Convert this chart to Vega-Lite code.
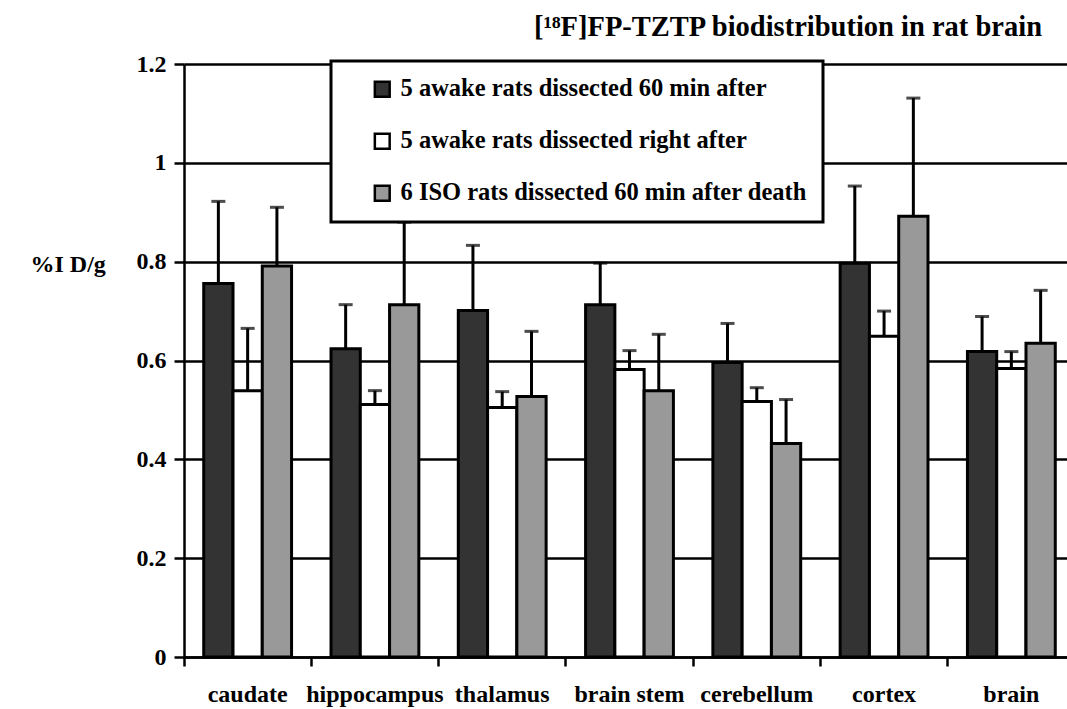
{
  "$schema": "https://vega.github.io/schema/vega-lite/v6.json",
  "width": 891,
  "height": 593,
  "autosize": {"type": "none"},
  "padding": {"left": 184, "top": 64, "right": 0, "bottom": 52},
  "background": "white",
  "title": {
    "text": "[¹⁸F]FP-TZTP biodistribution in rat brain",
    "anchor": "start",
    "frame": "group",
    "dx": 350,
    "offset": 11,
    "font": "Liberation Serif",
    "fontSize": 28.5,
    "fontWeight": "bold",
    "color": "black"
  },
  "config": {
    "view": {"stroke": null},
    "font": "Liberation Serif",
    "legend": {"strokeWidth": 3},
    "axis": {
      "labelFont": "Liberation Serif",
      "labelFontWeight": "bold",
      "labelFontSize": 24,
      "labelColor": "black",
      "titleFont": "Liberation Serif",
      "titleFontWeight": "bold",
      "titleFontSize": 24,
      "titleColor": "black",
      "domainColor": "black",
      "domainWidth": 2.5,
      "tickColor": "black",
      "tickWidth": 2.5
    }
  },
  "data": {
    "values": [
      {"region": "caudate", "group": "5 awake rats dissected 60 min after", "value": 0.756, "err": 0.922},
      {"region": "caudate", "group": "5 awake rats dissected right after", "value": 0.539, "err": 0.665},
      {"region": "caudate", "group": "6 ISO rats dissected 60 min after death", "value": 0.791, "err": 0.910},
      {"region": "hippocampus", "group": "5 awake rats dissected 60 min after", "value": 0.624, "err": 0.713},
      {"region": "hippocampus", "group": "5 awake rats dissected right after", "value": 0.511, "err": 0.539},
      {"region": "hippocampus", "group": "6 ISO rats dissected 60 min after death", "value": 0.713, "err": 0.880},
      {"region": "thalamus", "group": "5 awake rats dissected 60 min after", "value": 0.701, "err": 0.833},
      {"region": "thalamus", "group": "5 awake rats dissected right after", "value": 0.505, "err": 0.537},
      {"region": "thalamus", "group": "6 ISO rats dissected 60 min after death", "value": 0.527, "err": 0.659},
      {"region": "brain stem", "group": "5 awake rats dissected 60 min after", "value": 0.713, "err": 0.797},
      {"region": "brain stem", "group": "5 awake rats dissected right after", "value": 0.582, "err": 0.620},
      {"region": "brain stem", "group": "6 ISO rats dissected 60 min after death", "value": 0.539, "err": 0.653},
      {"region": "cerebellum", "group": "5 awake rats dissected 60 min after", "value": 0.596, "err": 0.675},
      {"region": "cerebellum", "group": "5 awake rats dissected right after", "value": 0.517, "err": 0.545},
      {"region": "cerebellum", "group": "6 ISO rats dissected 60 min after death", "value": 0.432, "err": 0.521},
      {"region": "cortex", "group": "5 awake rats dissected 60 min after", "value": 0.797, "err": 0.953},
      {"region": "cortex", "group": "5 awake rats dissected right after", "value": 0.649, "err": 0.700},
      {"region": "cortex", "group": "6 ISO rats dissected 60 min after death", "value": 0.892, "err": 1.131},
      {"region": "brain", "group": "5 awake rats dissected 60 min after", "value": 0.618, "err": 0.689},
      {"region": "brain", "group": "5 awake rats dissected right after", "value": 0.584, "err": 0.618},
      {"region": "brain", "group": "6 ISO rats dissected 60 min after death", "value": 0.635, "err": 0.742}
    ]
  },
  "encoding": {
    "x": {
      "field": "region",
      "type": "nominal",
      "sort": null,
      "scale": {"paddingInner": 0.31, "paddingOuter": 0.155},
      "axis": {
        "title": null,
        "labelAngle": 0,
        "bandPosition": -0.2246,
        "tickSize": 9,
        "labelPadding": 16,
        "grid": false
      }
    },
    "xOffset": {
      "field": "group",
      "type": "nominal",
      "sort": ["5 awake rats dissected 60 min after", "5 awake rats dissected right after", "6 ISO rats dissected 60 min after death"],
      "scale": {"paddingInner": 0, "paddingOuter": 0}
    }
  },
  "layer": [
    {
      "mark": {"type": "bar", "stroke": "black", "strokeWidth": 3},
      "encoding": {
        "y": {
          "field": "value",
          "type": "quantitative",
          "scale": {"domain": [0, 1.2], "nice": false},
          "axis": {
            "title": "%I D/g",
            "titleAngle": 0,
            "titleAlign": "left",
            "titleBaseline": "middle",
            "titleX": -154,
            "titleY": 200,
            "values": [0, 0.2, 0.4, 0.6, 0.8, 1, 1.2],
            "format": "~g",
            "tickSize": 10,
            "labelPadding": 8,
            "grid": true,
            "gridColor": "black",
            "gridWidth": 2.5,
            "gridOpacity": 1
          }
        },
        "fill": {
          "field": "group",
          "type": "nominal",
          "scale": {
            "domain": ["5 awake rats dissected 60 min after", "5 awake rats dissected right after", "6 ISO rats dissected 60 min after death"],
            "range": ["#333333", "#ffffff", "#999999"]
          },
          "legend": {
            "title": null,
            "orient": "none",
            "legendX": 147,
            "legendY": -3,
            "symbolType": "square",
            "symbolSize": 220,
            "symbolStrokeColor": "black",
            "symbolStrokeWidth": 2.5,
            "symbolOpacity": 1,
            "symbolOffset": 23,
            "labelFont": "Liberation Serif",
            "labelFontWeight": "bold",
            "labelFontSize": 24.5,
            "labelColor": "black",
            "labelLimit": 600,
            "labelOffset": 6,
            "rowPadding": 26,
            "padding": 16,
            "strokeColor": "black",
            "fillColor": "white"
          }
        }
      }
    },
    {
      "mark": {"type": "rule", "color": "black", "strokeWidth": 3},
      "encoding": {
        "y": {"field": "value", "type": "quantitative"},
        "y2": {"field": "err"}
      }
    },
    {
      "mark": {"type": "tick", "color": "black", "thickness": 3, "size": 14},
      "encoding": {
        "y": {"field": "err", "type": "quantitative"}
      }
    }
  ]
}
